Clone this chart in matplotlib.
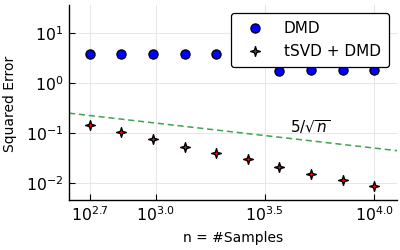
import numpy as np
import matplotlib
matplotlib.use("Agg")
import matplotlib.pyplot as plt
from matplotlib.path import Path

plt.rcParams['font.family'] = ['DejaVu Sans']
plt.rcParams['mathtext.fontset'] = 'dejavusans'

# data
log_n = [2.7, 2.844, 2.989, 3.133, 3.278, 3.422, 3.567, 3.711, 3.856, 4.0]
n_samples = [10 ** v for v in log_n]
err_dmd = [3.8, 3.8, 3.8, 3.8, 3.8, 3.8, 1.75, 1.78, 1.78, 1.8]
err_tsvd = [0.145, 0.105, 0.076, 0.053, 0.040, 0.030, 0.021, 0.015, 0.0115, 0.0087]
xtick_pows = [2.7, 3.0, 3.5, 4.0]
ytick_pows = [-2, -1, 0, 1]

# 4-point star like Plots.jl :star4
ang = np.arange(8) * np.pi / 4 + np.pi / 2
rad = np.where(np.arange(8) % 2 == 0, 1.0, 0.33)
verts = np.column_stack([rad * np.cos(ang), rad * np.sin(ang)])
star4 = Path(np.vstack([verts, verts[:1]]), closed=True)

fig = plt.figure(figsize=(4, 2.5), dpi=100)
ax = fig.add_axes([0.1725, 0.2, 0.82, 0.78])

xlo, xhi = 10 ** 2.604, 10 ** 4.105
xs = np.logspace(2.604, 4.105, 50)
ax.plot(xs, 5 / np.sqrt(xs), ls=(0, (4, 2.5)), color='#3EA44E', lw=1.1, zorder=2)

ax.plot(n_samples, err_dmd, 'o', ms=6.6, mfc='#0000FF', mec='black', mew=0.9,
        label='DMD', zorder=3)
ax.plot(n_samples, err_tsvd, ls='none', marker=star4, ms=7, mfc='#FF0000',
        mec='black', mew=1.0, label='tSVD + DMD', zorder=3)

ax.text(10 ** 3.706, 0.13, r'$5/\sqrt{n}$', fontsize=11, ha='center', va='center')

ax.set_xscale('log')
ax.set_yscale('log')
ax.set_xlim(xlo, xhi)
ax.set_ylim(10 ** -2.34, 10 ** 1.56)
ax.set_xticks([10 ** p for p in xtick_pows])
ax.set_xticklabels([r'$10^{%.1f}$' % p for p in xtick_pows])
ax.set_yticks([10.0 ** p for p in ytick_pows])
ax.set_yticklabels([r'$10^{%d}$' % p if p >= 0 else r'$10^{-%d}$' % -p for p in ytick_pows])
ax.minorticks_off()
ax.tick_params(direction='in', length=4, width=0.8, labelsize=11.3)
ax.tick_params(axis='y', pad=4.3)
ax.tick_params(axis='x', pad=3.5)
ax.grid(True, color='#E6E6E6', lw=0.7)
ax.set_axisbelow(True)
for s in ['top', 'right']:
    ax.spines[s].set_visible(False)
for s in ['left', 'bottom']:
    ax.spines[s].set_linewidth(1.0)

ax.set_xlabel('n = #Samples', fontsize=10)
ax.set_ylabel('Squared Error', fontsize=10)
ax.xaxis.set_label_coords(0.5, -(231 - 200) / 195)
ax.yaxis.set_label_coords(-(69 - 17) / 328, (250 - 103.5 - 50) / 195)

leg = ax.legend(loc='upper right', fontsize=11, frameon=True, fancybox=True,
                edgecolor='black', framealpha=1, borderaxespad=0.55,
                handlelength=2.14, handletextpad=0.82, labelspacing=0.55,
                borderpad=0.5)
leg.get_frame().set_linewidth(0.9)

fig.savefig('out.png', dpi=100)
